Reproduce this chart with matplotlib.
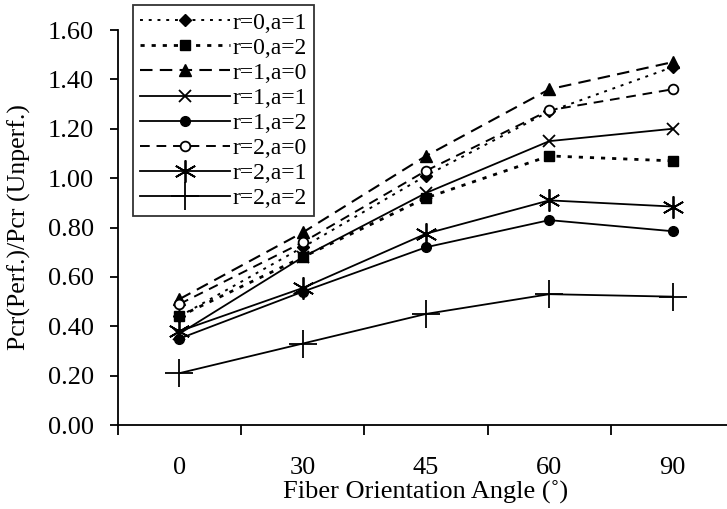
import numpy as np
import matplotlib.pyplot as plt
from matplotlib.ticker import FixedLocator, NullFormatter

plt.rcParams['font.family'] = ['Liberation Serif', 'DejaVu Serif']
plt.rcParams['font.size'] = 19

# category labels (fiber orientation angle)
angles = ['0', '30', '45', '60', '90']

# Pcr(Perf.)/Pcr(Unperf.) for each case
r0_a1 = [0.44, 0.72, 1.01, 1.27, 1.45]
r0_a2 = [0.44, 0.68, 0.92, 1.09, 1.07]
r1_a0 = [0.51, 0.78, 1.09, 1.36, 1.47]
r1_a1 = [0.37, 0.68, 0.94, 1.15, 1.20]
r1_a2 = [0.35, 0.54, 0.72, 0.83, 0.785]
r2_a0 = [0.49, 0.74, 1.03, 1.275, 1.36]
r2_a1 = [0.38, 0.555, 0.775, 0.91, 0.885]
r2_a2 = [0.21, 0.33, 0.45, 0.53, 0.52]

x = np.arange(len(angles))

fig = plt.figure(figsize=(7.27, 5.09), dpi=100)
ax = fig.add_axes([0.162, 0.165, 0.848, 0.776])

k = 'black'
ax.plot(x, r0_a1, color=k, lw=1.4, ls=(0, (1.5, 3)), marker='D', ms=6, label='r=0,a=1')
ax.plot(x, r0_a2, color=k, lw=2.0, ls=(0, (1.5, 2.5)), marker='s', ms=7, label='r=0,a=2')
ax.plot(x, r1_a0, color=k, lw=1.5, ls=(0, (6, 3.5)), marker='^', ms=8, label='r=1,a=0')
ax.plot(x, r1_a1, color=k, lw=1.3, ls='-', marker='x', ms=9, mew=1.3, label='r=1,a=1')
ax.plot(x, r1_a2, color=k, lw=1.3, ls='-', marker='o', ms=7, label='r=1,a=2')
ax.plot(x, r2_a0, color=k, lw=1.4, ls=(0, (5, 3.5)), marker='o', ms=7, mfc='white', mew=1.3, label='r=2,a=0')
ax.plot(x, r2_a1, color=k, lw=1.3, ls='-', marker=(6, 2, 0), ms=16, mew=1.3, label='r=2,a=1')
ax.plot(x, r2_a2, color=k, lw=1.3, ls='-', marker='+', ms=20, mew=1.3, label='r=2,a=2')

ax.set_xlim(-0.5, 4.5)
ax.set_ylim(0, 1.6)
ax.set_yticks(np.arange(0, 1.61, 0.2))
ax.set_yticklabels(['%.2f' % v for v in np.arange(0, 1.61, 0.2)])

ax.set_xticks(x)
ax.set_xticklabels(angles)
ax.xaxis.set_minor_locator(FixedLocator([-0.5, 0.5, 1.5, 2.5, 3.5]))
ax.xaxis.set_minor_formatter(NullFormatter())
ax.tick_params(axis='x', which='major', length=0, pad=23)
ax.tick_params(axis='x', which='minor', length=7, width=1.3, direction='out')
ax.tick_params(axis='y', length=6, width=1.3, direction='out', pad=11)

for s in ['top', 'right']:
    ax.spines[s].set_visible(False)
ax.spines['left'].set_linewidth(1.3)
ax.spines['bottom'].set_linewidth(1.3)

ax.set_xlabel('Fiber Orientation Angle (˚)', labelpad=1)
ax.set_ylabel('Pcr(Perf.)/Pcr (Unperf.)', labelpad=12, fontsize=18.5)

leg = ax.legend(loc='upper left', bbox_to_anchor=(133 / 727, 1 - 5 / 509), bbox_transform=fig.transFigure,
                frameon=True, fancybox=False, edgecolor='black', handlelength=3.8, handletextpad=0.1,
                labelspacing=0.15, borderpad=0.3, borderaxespad=0, fontsize=17)
leg.get_frame().set_linewidth(1.3)

fig.savefig('out.png', dpi=100)
